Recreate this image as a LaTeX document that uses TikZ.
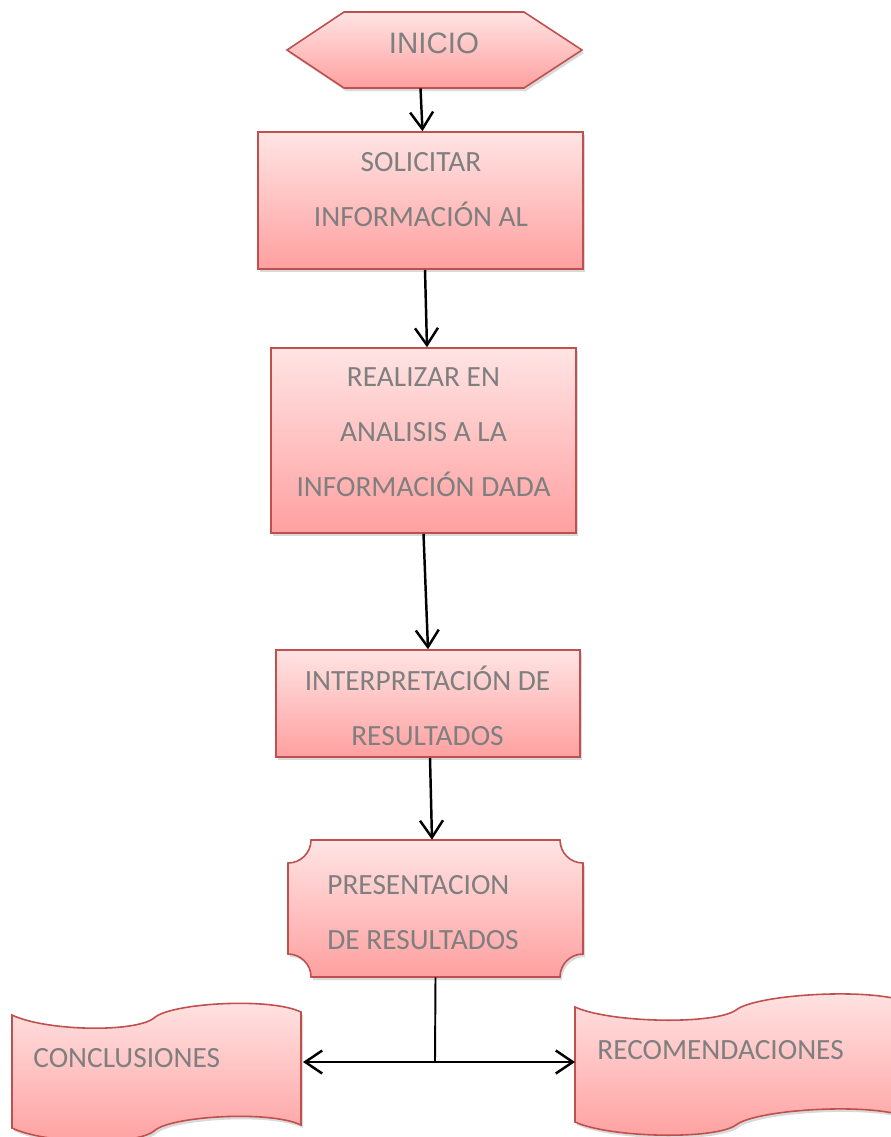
\documentclass[tikz,border=0pt]{standalone}
\usepackage{fontspec}
\setmainfont{Carlito}
\newfontfamily\arialfont{Liberation Sans}
\usetikzlibrary{arrows.meta,shadows}

\definecolor{boxborder}{RGB}{192,80,77}
\definecolor{boxtop}{RGB}{255,228,228}
\definecolor{boxbottom}{RGB}{255,160,160}
\definecolor{boxtext}{RGB}{127,127,127}

\tikzset{
  shapefill/.style={draw=boxborder, line width=0.9pt, top color=boxtop, bottom color=boxbottom,
    drop shadow={shadow xshift=0.04cm, shadow yshift=-0.06cm, opacity=0.3}},
  box/.style={shapefill, rectangle, inner sep=0pt},
  anchorbox/.style={rectangle, inner sep=0pt},
  txt/.style={text=boxtext, inner sep=0pt, align=center, font=\fontsize{16.7}{31.3}\selectfont},
  arr/.style={-{Straight Barb[length=0.34cm,width=0.46cm]}, line width=1.4pt}
}

\begin{document}
\begin{tikzpicture}[x=0.02cm,y=-0.02cm]
\useasboundingbox (0,0) rectangle (891,1137);

% Draw the shapes
\path[shapefill] (287,50) -- (344,12) -- (524,12) -- (582,50) -- (524,88) -- (344,88) -- cycle;
\node[anchorbox, minimum width=5.9cm, minimum height=1.52cm] (ini) at (434.5,50) {};

\node[box, minimum width=6.5cm, minimum height=2.74cm] (sol) at (420.5,200.5) {};
\node[box, minimum width=6.1cm, minimum height=3.7cm] (ana) at (423.5,440.5) {};
\node[box, minimum width=6.08cm, minimum height=2.14cm] (int) at (428,703.5) {};

\path[shapefill] (311,840) -- (560,840) .. controls (560,852.7) and (570.3,863) .. (583,863)
  -- (583,954) .. controls (570.3,954) and (560,964.3) .. (560,977)
  -- (311,977) .. controls (311,964.3) and (300.7,954) .. (288,954)
  -- (288,863) .. controls (300.7,863) and (311,852.7) .. (311,840) -- cycle;
\node[anchorbox, minimum width=5.9cm, minimum height=2.74cm] (pre) at (435.5,908.5) {};

\path[shapefill] (12,1015) .. controls (45,1031) and (135,1033) .. (154,1018)
  .. controls (170,1003) and (270,997) .. (301,1012)
  -- (301,1125) .. controls (270,1110) and (170,1116) .. (154,1131)
  .. controls (135,1146) and (45,1144) .. (12,1128) -- cycle;
\path[shapefill] (575,1007) .. controls (610,1023) and (715,1025) .. (736,1010)
  .. controls (755,995) and (860,988) .. (901,1000)
  -- (901,1115) .. controls (860,1103) and (755,1110) .. (736,1125)
  .. controls (715,1140) and (610,1138) .. (575,1122) -- cycle;

% Draw the texts
\node[txt, font=\arialfont\fontsize{16.8}{19}\selectfont] (ini-t) at (434,43) {INICIO};
\node[txt] (sol-t) at (421,189.5) {SOLICITAR\\INFORMACIÓN AL};
\node[txt] (ana-t) at (423.5,432) {REALIZAR EN\\ANALISIS A LA\\INFORMACIÓN DADA};
\node[txt] (int-t) at (427.5,705.5) {INTERPRETACIÓN DE\\RESULTADOS};
\node[txt, align=left, anchor=west] (pre-t) at (327,913) {PRESENTACION\\DE RESULTADOS};
\node[txt, anchor=west] (con-t) at (33,1058) {CONCLUSIONES};
\node[txt, anchor=west] (rec-t) at (597,1050) {RECOMENDACIONES};

% Draw the arrows
\coordinate (split) at (435,1062);
\coordinate (con) at (303,1062);
\coordinate (rec) at (575,1062);
\draw[arr] (sol.north |- ini.south) -- ([xshift=0.04cm]sol.north);
\draw[arr] ([xshift=0.09cm]sol.south) -- ([xshift=0.07cm]ana.north);
\draw[arr] (ana.south) -- (int.north);
\draw[arr] ([xshift=0.04cm]int.south) -- ([xshift=-0.07cm]pre.north);
\draw[line width=1.1pt] (pre.south) -- (split);
\draw[arr] (split) -- (con);
\draw[arr] (split) -- (rec);

\end{tikzpicture}
\end{document}
